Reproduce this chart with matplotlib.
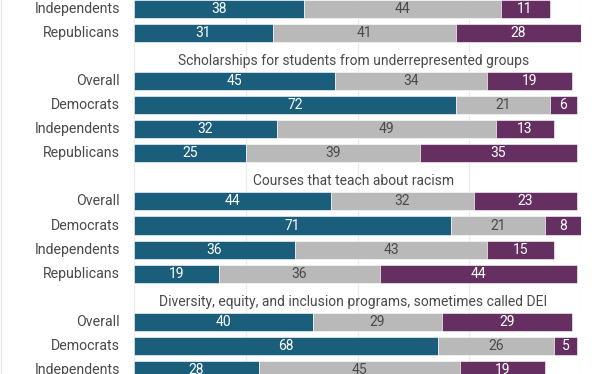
import numpy as np
import matplotlib.pyplot as plt

plt.rcParams['font.family'] = ['Roboto', 'DejaVu Sans']

# DATA (the chart is cropped at the top and bottom)
group_titles = [
    None,
    "Scholarships for students from underrepresented groups",
    "Courses that teach about racism",
    "Diversity, equity, and inclusion programs, sometimes called DEI",
]
group_rows = [
    ["Independents", "Republicans"],
    ["Overall", "Democrats", "Independents", "Republicans"],
    ["Overall", "Democrats", "Independents", "Republicans"],
    ["Overall", "Democrats", "Independents"],
]
blue_vals = [[38, 31], [45, 72, 32, 25], [44, 71, 36, 19], [40, 68, 28]]
gray_vals = [[44, 41], [34, 21, 49, 39], [32, 21, 43, 36], [29, 26, 45]]
purple_vals = [[11, 28], [19, 6, 13, 35], [23, 8, 15, 44], [29, 5, 19]]

BLUE = "#1b5e7c"
GRAY = "#b9b9b9"
PURPLE = "#652f62"
TEXT = "#4a4a4a"

# slot positions: each group = title slot + 4 rows
labels, pos, b, g, p, title_pos = [], [], [], [], [], []
s = 0
for gi, rows in enumerate(group_rows):
    if group_titles[gi] is not None:
        title_pos.append((s, group_titles[gi]))
        s += 1
    for ri, name in enumerate(rows):
        labels.append(name)
        pos.append(s)
        b.append(blue_vals[gi][ri])
        g.append(gray_vals[gi][ri])
        p.append(purple_vals[gi][ri])
        s += 1
pos = np.array(pos)
b, g, p = np.array(b), np.array(g), np.array(p)

fig = plt.figure(figsize=(6.12, 3.74), dpi=100)
ax = fig.add_axes([134 / 612, 0, (581 - 134) / 612, 1])

h = 0.75
kw = dict(height=h, edgecolor="white", linewidth=0.4, zorder=3)
ax.barh(pos, b, color=BLUE, **kw)
ax.barh(pos, g, left=b, color=GRAY, **kw)
ax.barh(pos, p, left=b + g, color=PURPLE, **kw)

for y, name, vb, vg, vp in zip(pos, labels, b, g, p):
    ax.text(vb / 2, y, str(vb), ha="center", va="center", color="white", fontsize=10, zorder=4)
    ax.text(vb + vg / 2, y, str(vg), ha="center", va="center", color=TEXT, fontsize=10, zorder=4)
    ax.text(vb + vg + vp / 2, y, str(vp), ha="center", va="center", color="white", fontsize=10, zorder=4)
    ax.text(-3.1, y, name, ha="right", va="center", color=TEXT, fontsize=10.2)

for y, t in title_pos:
    ax.text(49.1, y + 0.17, t, ha="center", va="center", color=TEXT, fontsize=10)

for x in [0, 25, 50, 75, 100]:
    ax.axvline(x, color="#ebebeb", linewidth=0.8, zorder=1)

ax.set_xlim(0, 100)
ax.set_ylim((374 - 8.6) / 24.1, -8.6 / 24.1)
ax.axis("off")

# faint left border of the original graphic
fig.add_artist(plt.Line2D([0.6 / 612, 0.6 / 612], [0, 1], color="#e6e6e6", linewidth=0.8))

fig.savefig("out.png", dpi=100)
